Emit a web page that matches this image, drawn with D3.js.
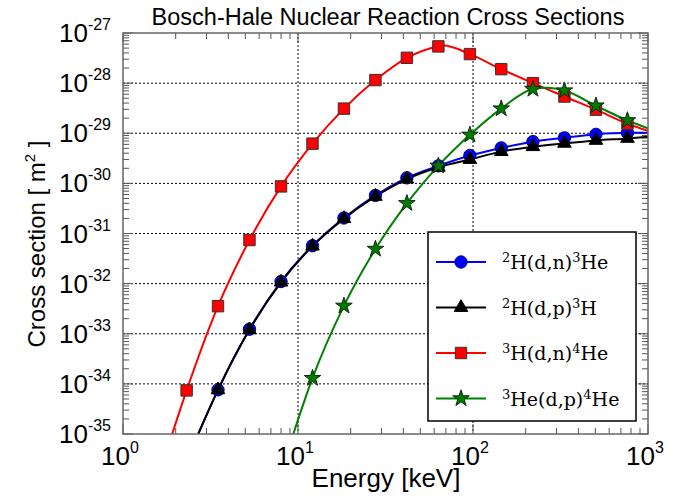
<!DOCTYPE html>
<html>
<head>
<meta charset="utf-8">
<script src="https://cdn.jsdelivr.net/npm/d3@7"></script>
<style>
    html, body { margin: 0; padding: 0; background: #fff; }
    svg { display: block; }
</style>
</head>
<body>
<div id="chart"></div>
<script>
// Energies (keV) where the markers sit, shared by all four reactions
const markerEnergy = [2.31, 3.49, 5.28, 8.0, 12.1, 18.3, 27.7, 41.9, 63.4, 96.0, 145, 220, 333, 504, 763];

// Cross sections (m^2) at the marker energies, null = below the axis
const ddnSigma = [null, 7.6e-35, 1.23e-33, 1.1e-32, 5.7e-32, 2.04e-31, 5.75e-31, 1.29e-30, 2.24e-30, 3.6e-30, 5.1e-30, 6.8e-30, 8.1e-30, 9.5e-30, 1.02e-29];
const ddpSigma = [null, 7.6e-35, 1.2e-33, 1.07e-32, 5.6e-32, 1.98e-31, 5.5e-31, 1.22e-30, 2.1e-30, 3.0e-30, 4.3e-30, 5.4e-30, 6.3e-30, 7.2e-30, 7.9e-30];
const dtSigma = [7.4e-35, 3.55e-33, 7.4e-32, 8.7e-31, 6.2e-30, 3.1e-29, 1.15e-28, 3.2e-28, 5.4e-28, 3.8e-28, 1.9e-28, 1.0e-28, 5.4e-29, 2.95e-29, 1.55e-29];
const dhe3Sigma = [null, null, null, null, 1.3e-34, 3.6e-33, 4.9e-32, 4.0e-31, 2.24e-30, 9.3e-30, 3.1e-29, 7.6e-29, 7.1e-29, 3.55e-29, 1.8e-29];

// Extra points: where they enter the frame, peaks, right edge
const ddnExtra = [[2.69, 1e-35], [1000, 1.02e-29]];
const ddpExtra = [[2.69, 1e-35], [1000, 8.5e-30]];
const dtExtra = [[1.91, 1e-35], [67.6, 5.6e-28], [1000, 1.12e-29]];
const dhe3Extra = [[9.4, 1e-35], [264, 8.1e-29], [1000, 1.26e-29]];

// Axis decades
const xDecades = [0, 1, 2, 3];
const yDecades = [-35, -34, -33, -32, -31, -30, -29, -28, -27];

const series = [
    { label: ['2', 'H(d,n)', '3', 'He'], sigma: ddnSigma, extra: ddnExtra, color: '#0000ff', symbol: d3.symbolCircle, size: 120, fill: '#0000ff', stroke: '#00007a' },
    { label: ['2', 'H(d,p)', '3', 'H'], sigma: ddpSigma, extra: ddpExtra, color: '#000000', symbol: d3.symbolTriangle, size: 80, fill: '#000000', stroke: '#000000' },
    { label: ['3', 'H(d,n)', '4', 'He'], sigma: dtSigma, extra: dtExtra, color: '#ff0000', symbol: d3.symbolSquare, size: 130, fill: '#ff0000', stroke: '#333333' },
    { label: ['3', 'He(d,p)', '4', 'He'], sigma: dhe3Sigma, extra: dhe3Extra, color: '#008000', symbol: d3.symbolStar, size: 85, fill: '#007a00', stroke: '#0a2a0a' }
];

const width = 675, height = 499;
const margin = { top: 33, right: 27, bottom: 65, left: 123 };
const plotW = width - margin.left - margin.right;
const plotH = height - margin.top - margin.bottom;

const x = d3.scaleLog().domain([1, 1000]).range([0, plotW]);
const y = d3.scaleLog().domain([1e-35, 1e-27]).range([plotH, 0]);

const svg = d3.select('#chart')
    .append('svg')
    .attr('width', width)
    .attr('height', height);

const g = svg.append('g').attr('transform', `translate(${margin.left},${margin.top})`);

g.append('clipPath').attr('id', 'plot-clip')
    .append('rect').attr('width', plotW).attr('height', plotH);

// Dotted grid at the decades
g.append('g').selectAll('line')
    .data(xDecades.slice(1, -1))
    .enter().append('line')
    .attr('x1', d => x(Math.pow(10, d))).attr('x2', d => x(Math.pow(10, d)))
    .attr('y1', 0).attr('y2', plotH)
    .attr('stroke', '#000').attr('stroke-width', 1).attr('stroke-dasharray', '2,2');

g.append('g').selectAll('line')
    .data(yDecades.slice(1, -1))
    .enter().append('line')
    .attr('y1', d => y(Math.pow(10, d))).attr('y2', d => y(Math.pow(10, d)))
    .attr('x1', 0).attr('x2', plotW)
    .attr('stroke', '#000').attr('stroke-width', 1).attr('stroke-dasharray', '2,2');

// Inward ticks on all four sides
function logTicks(lo, hi) {
    const out = [];
    for (let p = lo; p < hi; p++) {
        for (let m = 1; m < 10; m++) out.push({ v: m * Math.pow(10, p), major: m === 1 });
    }
    out.push({ v: Math.pow(10, hi), major: true });
    return out;
}
const tickColor = '#555';
const xt = logTicks(0, 3), yt = logTicks(-35, -27);
const ticks = g.append('g').attr('stroke', tickColor).attr('stroke-width', 1);
xt.forEach(t => {
    const len = t.major ? 10 : 6;
    const px = x(t.v);
    ticks.append('line').attr('x1', px).attr('x2', px).attr('y1', plotH).attr('y2', plotH - len);
    ticks.append('line').attr('x1', px).attr('x2', px).attr('y1', 0).attr('y2', len);
});
yt.forEach(t => {
    const len = t.major ? 10 : 6;
    const py = y(t.v);
    ticks.append('line').attr('y1', py).attr('y2', py).attr('x1', 0).attr('x2', len);
    ticks.append('line').attr('y1', py).attr('y2', py).attr('x1', plotW).attr('x2', plotW - len);
});

// Curves and markers
const line = d3.line()
    .x(d => x(d[0]))
    .y(d => y(d[1]))
    .curve(d3.curveMonotoneX);

const curves = g.append('g').attr('clip-path', 'url(#plot-clip)');
series.forEach(s => {
    const pts = markerEnergy.map((e, i) => [e, s.sigma[i]]).filter(p => p[1] !== null);
    s.points = pts;
    const all = pts.concat(s.extra).sort((a, b) => a[0] - b[0]);
    curves.append('path')
        .datum(all)
        .attr('d', line)
        .attr('fill', 'none')
        .attr('stroke', s.color)
        .attr('stroke-width', 2);
});
series.forEach(s => {
    curves.append('g').selectAll('path')
        .data(s.points)
        .enter().append('path')
        .attr('d', d3.symbol().type(s.symbol).size(s.size))
        .attr('transform', d => `translate(${x(d[0])},${y(d[1])})`)
        .attr('fill', s.fill)
        .attr('stroke', s.stroke)
        .attr('stroke-width', 1);
});

// Frame
g.append('rect')
    .attr('width', plotW).attr('height', plotH)
    .attr('fill', 'none').attr('stroke', '#666').attr('stroke-width', 1.5);

// Tick labels as 10^n
const sans = 'Liberation Sans, Arial, Helvetica, sans-serif';
const xl = svg.append('g').attr('font-family', sans).attr('fill', '#000');
xDecades.forEach(p => {
    const t = xl.append('text')
        .attr('x', margin.left + x(Math.pow(10, p)) - 3)
        .attr('y', margin.top + plotH + 31)
        .attr('text-anchor', 'middle');
    t.append('tspan').attr('font-size', 26).text('10');
    t.append('tspan').attr('font-size', 16).attr('dy', -12).text(p);
});
const yl = svg.append('g').attr('font-family', sans).attr('fill', '#000');
yDecades.forEach(p => {
    const t = yl.append('text')
        .attr('x', 111)
        .attr('y', margin.top + y(Math.pow(10, p)) + 9)
        .attr('text-anchor', 'end');
    t.append('tspan').attr('font-size', 26).text('10');
    t.append('tspan').attr('font-size', 16).attr('dy', -12).text(p);
});

// Titles
svg.append('text')
    .attr('x', 388).attr('y', 25)
    .attr('text-anchor', 'middle')
    .attr('font-family', sans).attr('font-size', 23.5)
    .text('Bosch-Hale Nuclear Reaction Cross Sections');

svg.append('text')
    .attr('x', 386).attr('y', 487)
    .attr('text-anchor', 'middle')
    .attr('font-family', sans).attr('font-size', 26)
    .text('Energy [keV]');

const yTitle = svg.append('text')
    .attr('transform', 'translate(45,244) rotate(-90)')
    .attr('text-anchor', 'middle')
    .attr('font-family', sans).attr('font-size', 24);
yTitle.append('tspan').text('Cross section [ m');
yTitle.append('tspan').attr('font-size', 15).attr('dy', -10).text('2');
yTitle.append('tspan').attr('dy', 10).text(' ]');

// Legend
const legend = svg.append('g').attr('transform', 'translate(428,232)');
legend.append('rect')
    .attr('width', 208).attr('height', 189)
    .attr('fill', '#fff').attr('stroke', '#000').attr('stroke-width', 1.5);
series.forEach((s, i) => {
    const row = legend.append('g').attr('transform', `translate(0,${30 + i * 45.5})`);
    row.append('line')
        .attr('x1', 8).attr('x2', 58)
        .attr('stroke', s.color).attr('stroke-width', 2);
    row.append('path')
        .attr('d', d3.symbol().type(s.symbol).size(s.size))
        .attr('transform', 'translate(33,0)')
        .attr('fill', s.fill).attr('stroke', s.stroke).attr('stroke-width', 1);
    const t = row.append('text')
        .attr('x', 74).attr('y', 7)
        .attr('font-family', 'DejaVu Serif, serif')
        .attr('font-size', 19);
    t.append('tspan').attr('font-size', 13).attr('dy', -7).text(s.label[0]);
    t.append('tspan').attr('dy', 7).text(s.label[1]);
    t.append('tspan').attr('font-size', 13).attr('dy', -7).text(s.label[2]);
    t.append('tspan').attr('dy', 7).text(s.label[3]);
});
</script>
</body>
</html>
